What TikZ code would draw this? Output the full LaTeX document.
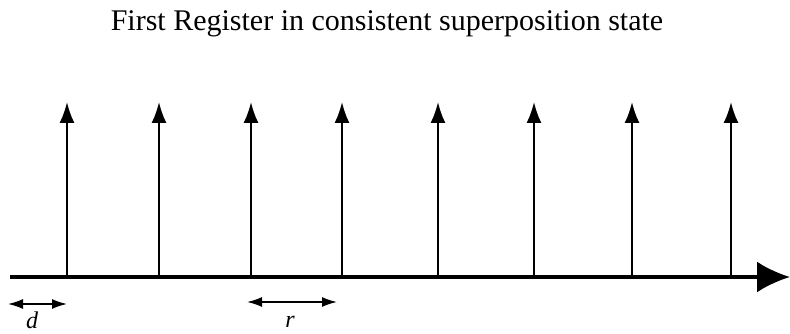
\documentclass[tikz,border=0pt]{standalone}
\usepackage{fontspec}
\setmainfont{Liberation Serif}
\usetikzlibrary{arrows.meta}
\tikzset{
  axisln/.style={-{Latex[length=33pt,width=31pt]}, line width=3.2pt},
  spike/.style={-{Latex[length=21pt,width=15pt]}, line width=2pt},
  gap/.style={{Latex[length=15pt,width=10pt]}-{Latex[length=15pt,width=10pt]}, line width=1.6pt},
  lbl/.style={font=\fontsize{24}{26}\selectfont\itshape, inner sep=0pt},
  ttl/.style={font=\fontsize{30}{33}\selectfont, inner sep=0pt}
}
\begin{document}
\begin{tikzpicture}[x=1pt,y=-1pt]
  \useasboundingbox (0,0) rectangle (790,334);
  \node[ttl] (title) at (387,24) {First Register in consistent superposition state};
  \coordinate (ax0) at (10,277);
  \coordinate (ax1) at (790,277);
  \draw[axisln] (ax0) -- (ax1);
  \foreach \i/\x in {1/67,2/159,3/251,4/342,5/438,6/534,7/632,8/731} {
    \coordinate (b\i) at (\x,277);
    \coordinate (t\i) at (\x,102);
    \draw[spike] (b\i) -- (t\i);
  }
  \coordinate (d0) at (8,304);
  \coordinate (d1) at (67,304);
  \draw[gap] (d0) -- (d1);
  \node[lbl] (dl) at (32,320) {d};
  \coordinate (r0) at (247,302);
  \coordinate (r1) at (337,302);
  \draw[gap] (r0) -- (r1);
  \node[lbl] (rl) at (290,322) {r};
\end{tikzpicture}
\end{document}
